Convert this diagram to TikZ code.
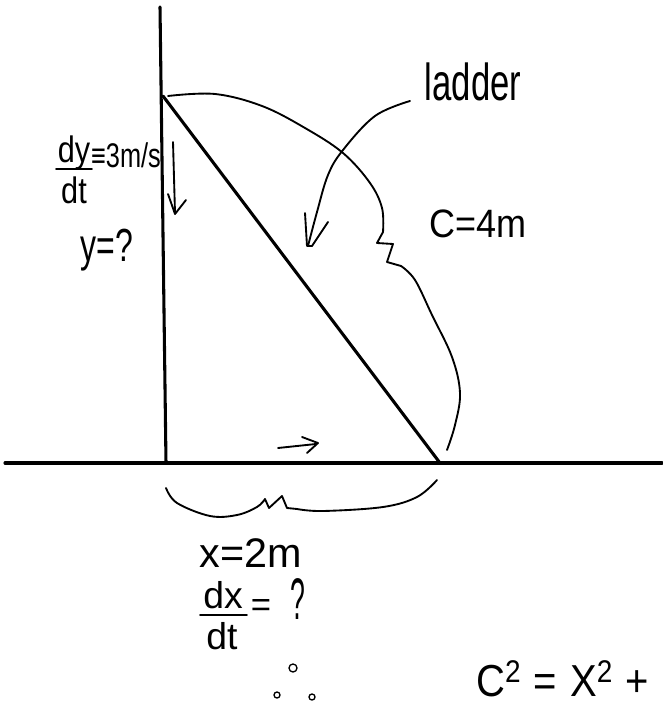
\documentclass[tikz,border=0pt]{standalone}
\usepackage{graphicx}
\usepackage{fontspec}
\setmainfont{Liberation Sans}
\newcommand{\vst}[2]{\scalebox{1}[#1]{#2}}
\begin{document}
\begin{tikzpicture}[x=0.75pt,y=-0.75pt,
  heavy/.style={line width=2.3pt,line cap=round},
  ink/.style={line width=1.4pt,line cap=round,line join=round},
  label/.style={inner sep=0pt,anchor=base,text depth=0pt},
  fs/.style={font=\fontsize{#1}{#1}\selectfont}]
\useasboundingbox (0,0) rectangle (662,705);

% wall, ground, ladder
\coordinate (walltop) at (160,7);
\coordinate (wallbot) at (166,463);
\coordinate (groundL) at (5,463);
\coordinate (groundR) at (662,463);
\coordinate (ladtop) at (163,96);
\coordinate (ladbot) at (440,463);
\draw[heavy] (walltop) -- (wallbot);
\draw[heavy] (groundL) -- (groundR);
\draw[heavy] (ladtop) -- (ladbot);

% brace for C (ladder length)
\draw[ink] plot[smooth,tension=0.6] coordinates {(168,96) (215,94) (262,106) (305,128) (343,153) (370,183) (382,208) (383,232)}
  -- (377,243) -- (393,244) -- (387,262)
  -- plot[smooth,tension=0.6] coordinates {(401,266) (415,280) (432,315) (452,357) (460,393) (455,425) (447,450)};

% "ladder" pointer arrow
\draw[ink] plot[smooth,tension=0.6] coordinates {(410,101) (375,116) (343,150) (328,175) (317,212) (308,246)};
\draw[ink] (305,213) -- (307,246) -- (312,246) -- (328,222);

% wall velocity arrow
\draw[ink] (173,142) -- (175,213);
\draw[ink] (168,194) -- (175,214) -- (186,200);

% ground direction arrow
\draw[ink] (278,448) -- (316,444);
\draw[ink] (302,437) -- (318,443) -- (307,453);

% brace for x
\draw[ink] plot[smooth,tension=0.6] coordinates {(166,488) (177,503) (210,516) (237,515) (257,507) (265,499)}
  -- (269,508) -- (282,496) -- (287,508)
  -- plot[smooth,tension=0.6] coordinates {(297,509) (323,511) (383,507) (417,497) (437,480)};

% texts
\node[label,fs=26] (ladder) at (473,101) {\vst{1.5}{ladder}};
\node[label,fs=27] (clen) at (478,238) {\vst{1.1}{C=4m}};

\node[label,fs=23] (dy) at (74,163) {\vst{1.2}{dy}};
\node[label,fs=23] (dt1) at (74,204) {\vst{1.2}{dt}};
\draw[ink] (56,169) -- (92,169);
\node[label,fs=19] (rate) at (126,168) {\vst{1.35}{≡3m/s}};
\node[label,fs=24] (yq) at (107,262) {\vst{1.45}{y=?}};

\node[label,fs=31] (xval) at (251,567) {x=2m};
\node[label,fs=28] (dx) at (223,608) {dx};
\node[label,fs=28] (dt2) at (222,649) {dt};
\draw[ink] (200,615) -- (247,615);
\node[label,fs=26] (eq2) at (261,616) {=};
\node[label,fs=20] (qm) at (298,619) {\vst{2.2}{?}};

\draw[ink,line width=1pt] (293,668) circle (4);
\draw[ink,line width=1pt] (277,695) circle (3);
\draw[ink,line width=1pt] (312,697) circle (3);

\node[label,fs=30,anchor=base west] (pyth) at (476,696) {\vst{1.12}{C\textsuperscript{2}\hspace{9pt}=\hspace{10pt}X\textsuperscript{2}\hspace{9pt}+}};
\end{tikzpicture}
\end{document}
